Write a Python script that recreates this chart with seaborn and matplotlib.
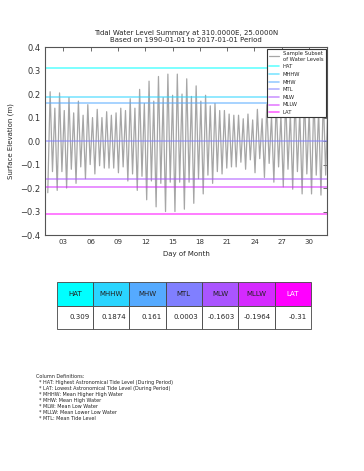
import numpy as np
import pandas as pd
import matplotlib
matplotlib.use('Agg')
import matplotlib.pyplot as plt
import seaborn as sns

# 潮位极值(高潮/低潮交替),读自原图
high_water = [0.21, 0.14, 0.205, 0.13, 0.185, 0.12, 0.17, 0.11, 0.155, 0.10,
              0.135, 0.10, 0.125, 0.11, 0.12, 0.14, 0.13, 0.18, 0.14, 0.22,
              0.16, 0.255, 0.17, 0.275, 0.185, 0.285, 0.195, 0.285, 0.20, 0.265,
              0.19, 0.235, 0.17, 0.195, 0.15, 0.16, 0.13, 0.13, 0.115, 0.11,
              0.11, 0.095, 0.115, 0.09, 0.135, 0.095, 0.155, 0.105, 0.17, 0.11,
              0.185, 0.12, 0.195, 0.125, 0.20, 0.13, 0.20, 0.13, 0.195, 0.19]
low_water = [-0.22, -0.13, -0.21, -0.13, -0.20, -0.12, -0.18, -0.11, -0.16, -0.10,
             -0.14, -0.105, -0.115, -0.115, -0.115, -0.135, -0.11, -0.17, -0.14, -0.21,
             -0.15, -0.25, -0.17, -0.28, -0.18, -0.30, -0.175, -0.30, -0.175, -0.29,
             -0.175, -0.265, -0.16, -0.225, -0.145, -0.18, -0.13, -0.14, -0.115, -0.11,
             -0.11, -0.09, -0.12, -0.08, -0.135, -0.075, -0.155, -0.095, -0.175, -0.11,
             -0.195, -0.12, -0.205, -0.13, -0.225, -0.14, -0.225, -0.145, -0.23, -0.145]
first_low_day = 1.29          # 第一个低潮所在日
half_tide_days = 0.2588       # 半个半日潮周期(天)

# 潮汐基准面
datum_names = ['HAT', 'MHHW', 'MHW', 'MTL', 'MLW', 'MLLW', 'LAT']
datum_values = [0.309, 0.1874, 0.161, 0.0003, -0.1603, -0.1964, -0.31]
day_ticks = [3, 6, 9, 12, 15, 18, 21, 24, 27, 30]

levels = np.ravel(np.column_stack([low_water, high_water]))
days = first_low_day + half_tide_days*np.arange(len(levels))
tide_df = pd.DataFrame({'day': days, 'level': levels})

sns.set_style('white')
plt.rcParams['font.family'] = ['DejaVu Sans']
plt.rcParams['xtick.direction'] = 'in'
plt.rcParams['ytick.direction'] = 'in'
plt.rcParams['xtick.top'] = True
plt.rcParams['ytick.right'] = True

fig = plt.figure(figsize=(3.64, 4.71), dpi=100)
ax = fig.add_axes([0.124, 0.501, 0.775, 0.399])

sns.lineplot(data=tide_df, x='day', y='level', ax=ax, color='grey',
             alpha=0.7, lw=0.9, label='Sample Subset\nof Water Levels')

cmap = plt.get_cmap('cool')
colors = [cmap(i/6) for i in range(7)]
for name, val, c in zip(datum_names, datum_values, colors):
    ax.axhline(val, color=c, lw=1.2, alpha=0.6, label=name)

ax.set_xlim(1, 32)
ax.set_ylim(-0.4, 0.4)
ax.set_xticks(day_ticks)
ax.set_xticklabels(['%02d' % d for d in day_ticks])
ax.set_yticks(np.arange(-0.4, 0.41, 0.1))
ax.tick_params(axis='x', labelsize=5, length=3, width=0.5, colors='#333333', pad=3)
ax.tick_params(axis='y', labelsize=6, length=3, width=0.5, colors='#333333')
for s in ax.spines.values():
    s.set_color('#555555')
    s.set_linewidth(0.8)
ax.set_xlabel('Day of Month', fontsize=5)
ax.set_ylabel('Surface Elevation (m)', fontsize=5)
ax.set_title('Tidal Water Level Summary at 310.0000E, 25.0000N\n'
             'Based on 1990-01-01 to 2017-01-01 Period', fontsize=5, pad=4)
leg = ax.legend(loc='upper right', fontsize=3.8, framealpha=1, fancybox=False,
                borderaxespad=0.3, handlelength=1.8, labelspacing=0.5)
leg.get_frame().set_edgecolor('#333333')
leg.get_frame().set_linewidth(0.8)

# 表格
tax = fig.add_axes([0.156, 0.301, 0.698, 0.0998])
tax.axis('off')
tbl = tax.table(cellText=[datum_names, [str(v) for v in datum_values]],
                bbox=[0, 0, 1, 1], cellLoc='right')
tbl.auto_set_font_size(False)
tbl.set_fontsize(5)
for (r, c), cell in tbl.get_celld().items():
    cell.set_edgecolor('#444444')
    cell.set_linewidth(0.6)
    if r == 0:
        cell.set_facecolor(colors[c])
        cell.get_text().set_ha('center')
        cell._loc = 'center'
        cell.get_text().set_color('white' if c == 6 else '#222222')
    else:
        cell.get_text().set_color('#222222')

defs = ('Column Definitions:\n'
        '  * HAT: Highest Astronomical Tide Level (During Period)\n'
        '  * LAT: Lowest Astronomical Tide Level (During Period)\n'
        '  * MHHW: Mean Higher High Water\n'
        '  * MHW: Mean High Water\n'
        '  * MLW: Mean Low Water\n'
        '  * MLLW: Mean Lower Low Water\n'
        '  * MTL: Mean Tide Level')
fig.text(0.1, 0.205, defs, fontsize=3.5, va='top', ha='left',
         color='#222222', linespacing=1.25)

fig.savefig('out.png', dpi=100)
